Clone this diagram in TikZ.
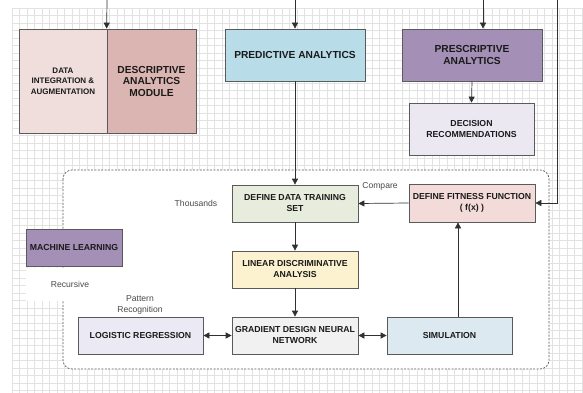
\documentclass[tikz,border=0pt]{standalone}
\usepackage{fontspec}
\setmainfont{Liberation Sans}
\usetikzlibrary{arrows.meta,calc}
\definecolor{gridc}{HTML}{E2E2E2}
\definecolor{edgec}{HTML}{5A5A5A}
\definecolor{linec}{HTML}{303030}
\definecolor{txtc}{HTML}{1A1A1A}
\definecolor{lblc}{HTML}{4A4A4A}
\definecolor{cint}{HTML}{F0DEDD}
\definecolor{cdesc}{HTML}{DBB5B1}
\definecolor{cpred}{HTML}{B8DCE8}
\definecolor{cpres}{HTML}{A48FB6}
\definecolor{cdec}{HTML}{ECE8F2}
\definecolor{cdef}{HTML}{E7EDDC}
\definecolor{clda}{HTML}{FCF2D0}
\definecolor{cgrad}{HTML}{F1F1F1}
\definecolor{clog}{HTML}{EBE9F3}
\definecolor{csim}{HTML}{DCE9F1}
\definecolor{cfit}{HTML}{F3DBDA}
\tikzset{
  box/.style={draw=edgec, line width=0.7pt, align=center, text=txtc, inner sep=1pt},
  big/.style={font=\fontsize{10.2}{11.5}\selectfont\bfseries},
  mid/.style={font=\fontsize{8.7}{11}\selectfont\bfseries},
  small/.style={font=\fontsize{8}{10.5}\selectfont\bfseries},
  lbl/.style={font=\fontsize{8.6}{10.7}\selectfont, text=lblc, align=center},
  arr/.style={draw=linec, line width=0.7pt, -{Triangle[width=6pt,length=6pt]}},
  darr/.style={draw=linec, line width=0.7pt, {Triangle[width=6pt,length=6pt]}-{Triangle[width=6pt,length=6pt]}}
}
\begin{document}
\begin{tikzpicture}[x=1pt,y=-1pt]
\useasboundingbox (0,0) rectangle (583,393);
\fill[white] (0,0) rectangle (583,393);
% grid
\foreach \i in {0,...,76} {\draw[gridc, line width=0.4pt] ({12+7.5*\i},8) -- ({12+7.5*\i},393);}
\foreach \j in {0,...,51} {\draw[gridc, line width=0.4pt] (12,{8+7.5*\j}) -- (583,{8+7.5*\j});}
% dashed region
\draw[fill=white, draw=edgec, line width=0.7pt, dash pattern=on 2pt off 1.4pt, rounded corners=9pt] (63,170) rectangle (549,369);

% top-level boxes
\node[box, small, fill=cint, minimum width=88, minimum height=104] (integ) at (63,81) {DATA\\INTEGRATION \&\\AUGMENTATION};
\node[box, big, fill=cdesc, minimum width=89, minimum height=104] (desc) at (151.5,81) {DESCRIPTIVE\\ANALYTICS\\MODULE};
\node[box, big, fill=cpred, minimum width=140, minimum height=52] (pred) at (295,55) {PREDICTIVE ANALYTICS};
\node[box, big, fill=cpres, minimum width=140, minimum height=52] (pres) at (472,55) {PRESCRIPTIVE\\ANALYTICS};
\node[box, mid, fill=cdec, minimum width=125, minimum height=52] (dec) at (471.5,129) {DECISION\\RECOMMENDATIONS};

% machine learning section
\node[box, mid, fill=cpres, minimum width=96, minimum height=37] (ml) at (74,247.5) {MACHINE LEARNING};
\node[fill=white, lbl, minimum width=88, minimum height=33] (rec) at (70,284) {Recursive};
\node[box, mid, fill=cdef, minimum width=126, minimum height=37] (def) at (295,203.5) {DEFINE DATA TRAINING\\SET};
\node[box, mid, fill=clda, minimum width=126, minimum height=37] (lda) at (295,269.5) {LINEAR DISCRIMINATIVE\\ANALYSIS};
\node[box, mid, fill=cgrad, minimum width=126, minimum height=37] (grad) at (295,335.5) {GRADIENT DESIGN NEURAL\\NETWORK};
\node[box, mid, fill=clog, minimum width=125, minimum height=37] (log) at (140.5,335.5) {LOGISTIC REGRESSION};
\node[box, mid, fill=csim, minimum width=125, minimum height=37] (sim) at (449.5,335.5) {SIMULATION};
\node[box, mid, fill=cfit, minimum width=126, minimum height=38] (fit) at (472,203) {DEFINE FITNESS FUNCTION\\( f(x) )};

% labels
\node[lbl] (thou) at (196,203) {Thousands};
\node[lbl] (comp) at (380,186) {Compare};
\node[lbl] (patt) at (140,305) {Pattern\\Recognition};

% top arrows
\coordinate (t1) at (107,0);
\coordinate (t2) at (295,0);
\coordinate (t3) at (483,0);
\coordinate (t4) at (557,0);
\coordinate (s1) at (458,317);
\draw[arr] (t1) -- (desc.north west);
\draw[arr] (t2) -- (pred.north);
\draw[arr] (t3) -- (pres.north -| t3);
\draw[arr] (t4) |- (fit.east);
\draw[arr] (pres.south) -- (dec.north);
\draw[arr] (pred.south) -- (def.north);
\draw[arr] (def.south) -- (lda.north);
\draw[arr] (lda.south) -- (grad.north);
\draw[darr] (log.east) -- (grad.west);
\draw[darr] (grad.east) -- (sim.west);
\draw[arr] (sim.north -| s1) -- (fit.south -| s1);
\draw[arr] (fit.west) -- (def.east);
\end{tikzpicture}
\end{document}
